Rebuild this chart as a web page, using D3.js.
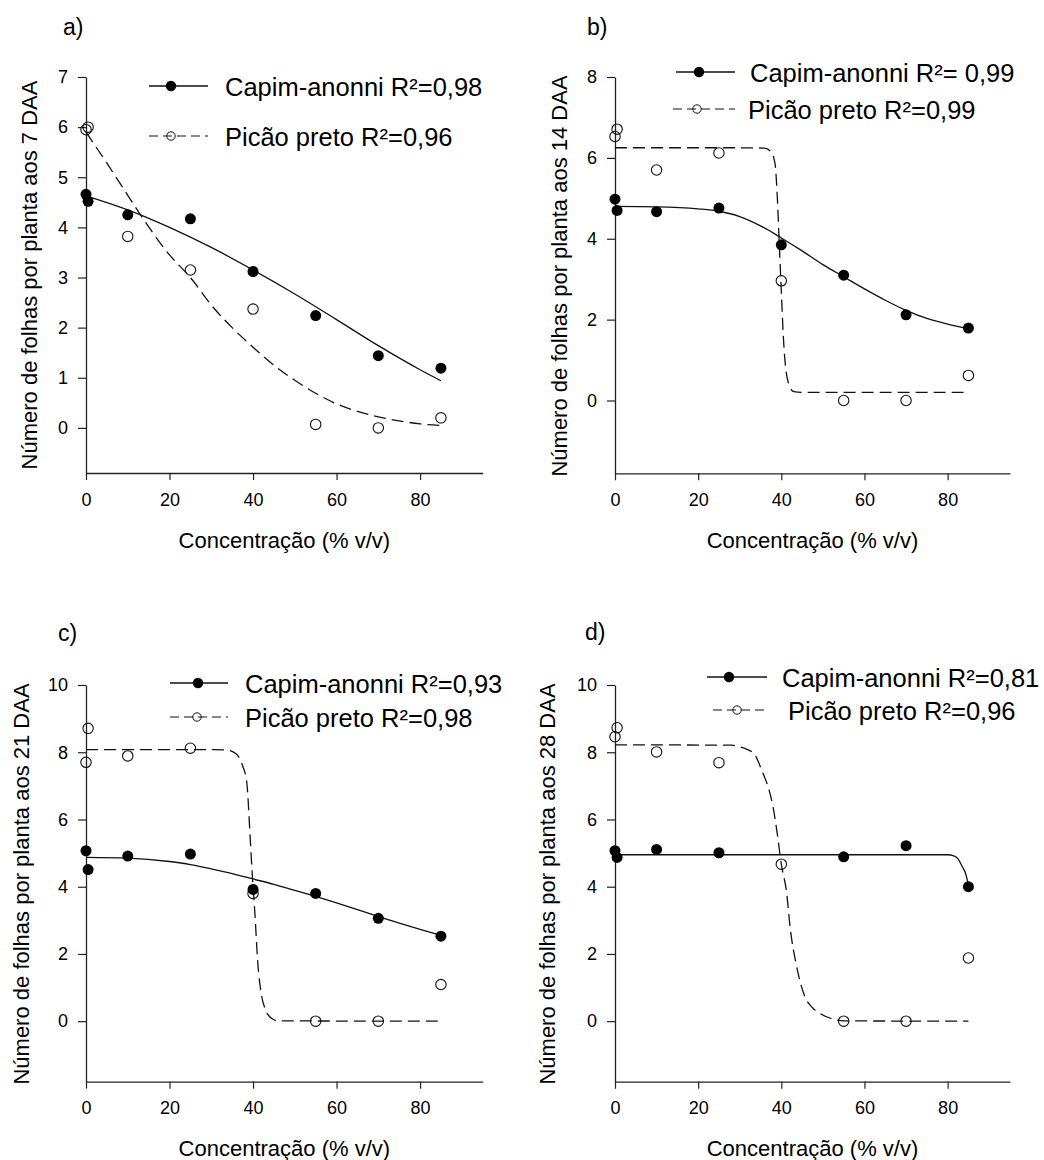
<!DOCTYPE html>
<html>
<head>
<meta charset="utf-8">
<script src="https://cdn.jsdelivr.net/npm/d3@7"></script>
<style>
  html, body { margin: 0; padding: 0; background: #fff; }
  svg { display: block; font-family: "Liberation Sans", Arial, sans-serif; }
</style>
</head>
<body>
<svg id="chart" width="1044" height="1160"></svg>
<script>
// ---------------- DATA ----------------
const doses = [0, 0.5, 10, 25, 40, 55, 70, 85];
const xTicks = [0, 20, 40, 60, 80];
const yTicksA = [0, 1, 2, 3, 4, 5, 6, 7];
const yTicksB = [0, 2, 4, 6, 8];
const yTicksCD = [0, 2, 4, 6, 8, 10];

const capim7  = [4.66, 4.52, 4.25, 4.17, 3.12, 2.24, 1.44, 1.19];
const picao7  = [5.95, 6.00, 3.82, 3.15, 2.37, 0.07, 0.00, 0.20];
const capim14 = [4.98, 4.70, 4.67, 4.76, 3.85, 3.10, 2.12, 1.79];
const picao14 = [6.53, 6.71, 5.70, 6.12, 2.96, 0.00, 0.00, 0.62];
const capim21 = [5.07, 4.51, 4.91, 4.97, 3.92, 3.80, 3.06, 2.53];
const picao21 = [7.70, 8.71, 7.89, 8.12, 3.80, 0.00, 0.00, 1.09];
const capim28 = [5.07, 4.87, 5.11, 5.01, null, 4.89, 5.22, 4.00];
const picao28 = [8.46, 8.73, 8.01, 7.69, 4.67, 0.00, 0.00, 1.88];

// fitted curves
const fitCapim7X = [0, 10, 20, 30, 40, 50, 60, 70, 80, 85];
const fitCapim7Y = [4.63, 4.35, 4.00, 3.60, 3.15, 2.67, 2.16, 1.64, 1.16, 0.94];
const fitPicao7X = [0, 5, 10, 13.3, 20, 25, 30, 35, 40, 45, 50, 55, 60, 65, 70, 75, 80, 85];
const fitPicao7Y = [5.90, 5.28, 4.64, 4.22, 3.45, 3.00, 2.45, 2.00, 1.61, 1.25, 0.95, 0.69, 0.48, 0.33, 0.22, 0.14, 0.08, 0.05];

const fitCapim14X = [0, 10, 20, 25, 30, 35, 40, 45, 50, 55, 60, 65, 70, 75, 80, 85];
const fitCapim14Y = [4.80, 4.79, 4.74, 4.68, 4.55, 4.32, 4.02, 3.70, 3.36, 3.06, 2.76, 2.48, 2.23, 2.03, 1.89, 1.78];
const fitPicao14X = [0, 30, 36, 37.5, 38.5, 39, 39.5, 40, 40.5, 41, 42, 43, 45, 85];
const fitPicao14Y = [6.25, 6.25, 6.24, 6.15, 5.85, 5.10, 3.90, 2.70, 1.55, 0.85, 0.35, 0.22, 0.20, 0.20];

const fitCapim21X = [0, 10, 20, 25, 30, 35, 40, 45, 50, 55, 60, 65, 70, 75, 80, 85];
const fitCapim21Y = [4.87, 4.85, 4.75, 4.66, 4.53, 4.39, 4.23, 4.07, 3.89, 3.71, 3.52, 3.32, 3.11, 2.92, 2.73, 2.55];
const fitPicao21X = [0, 30, 34, 36, 37.5, 38.5, 39.3, 39.8, 40.5, 41.1, 42, 43, 44.5, 46, 85];
const fitPicao21Y = [8.08, 8.08, 8.06, 7.95, 7.60, 7.10, 5.50, 4.40, 3.10, 1.80, 0.80, 0.33, 0.08, 0.01, 0];

const fitCapim28X = [0, 80, 81.5, 82.5, 83.5, 84.3, 85];
const fitCapim28Y = [4.95, 4.95, 4.92, 4.83, 4.60, 4.40, 4.05];
const fitPicao28X = [0, 28, 30, 32, 33.5, 35.5, 37, 38, 39, 40, 41.3, 42.1, 43.7, 45.7, 47.5, 49.3, 52, 55, 85];
const fitPicao28Y = [8.22, 8.21, 8.16, 8.07, 7.95, 7.40, 6.90, 6.38, 5.60, 4.67, 3.80, 2.81, 1.62, 0.72, 0.40, 0.23, 0.08, 0.01, 0];

const panelLabels = ["a)", "b)", "c)", "d)"];
const yTitles = [
  "Número de folhas por planta aos 7 DAA",
  "Número de folhas por planta aos 14 DAA",
  "Número de folhas por planta aos 21 DAA",
  "Número de folhas por planta aos 28 DAA"
];
const xTitle = "Concentração (% v/v)";
const legendCapim = ["Capim-anonni R²=0,98", "Capim-anonni R²= 0,99", "Capim-anonni R²=0,93", "Capim-anonni R²=0,81"];
const legendPicao = ["Picão preto R²=0,96", "Picão preto R²=0,99", "Picão preto R²=0,98", "Picão preto R²=0,96"];

// ---------------- LAYOUT ----------------
const panels = [
  { x0: 86,  x1: 482.7, yTop: 77,  yBot: 473,    yDom: [-0.9, 7],  yTicks: yTicksA,
    capim: capim7, picao: picao7, fc: [fitCapim7X, fitCapim7Y], fp: [fitPicao7X, fitPicao7Y],
    lab: [63, 35], yt: [29, 275],
    leg: { r1: 86, r2: 136, l1: [149, 208], m1: 171, l2: [149, 208], m2: 171, t1: 225, t2: 225 } },
  { x0: 615, x1: 1010,  yTop: 77,  yBot: 473.3,  yDom: [-1.8, 8],  yTicks: yTicksB,
    capim: capim14, picao: picao14, fc: [fitCapim14X, fitCapim14Y], fp: [fitPicao14X, fitPicao14Y],
    lab: [587, 35], yt: [559, 276],
    leg: { r1: 72, r2: 109, l1: [676, 735], m1: 699, l2: [673, 735], m2: 697, t1: 750, t2: 748 } },
  { x0: 86,  x1: 482.7, yTop: 685, yBot: 1081.7, yDom: [-1.8, 10], yTicks: yTicksCD,
    capim: capim21, picao: picao21, fc: [fitCapim21X, fitCapim21Y], fp: [fitPicao21X, fitPicao21Y],
    lab: [58, 641], yt: [21, 884],
    leg: { r1: 683, r2: 717, l1: [170, 228], m1: 198, l2: [170, 228], m2: 197, t1: 245, t2: 245 } },
  { x0: 615, x1: 1010,  yTop: 685, yBot: 1081.7, yDom: [-1.8, 10], yTicks: yTicksCD,
    capim: capim28, picao: picao28, fc: [fitCapim28X, fitCapim28Y], fp: [fitPicao28X, fitPicao28Y],
    lab: [585, 640], yt: [547, 884],
    leg: { r1: 677, r2: 710, l1: [707, 767], m1: 729, l2: [713, 767], m2: 737, t1: 782, t2: 788 } }
];

const svg = d3.select("#chart");
svg.append("rect").attr("width", 1044).attr("height", 1160).attr("fill", "#fff");

const axisColor = "#222";
const dashPlot = "12,6";
const dashLegend = "9,5";
const legendFont = "25.5px";

panels.forEach((p, i) => {
  const g = svg.append("g");
  const x = d3.scaleLinear().domain([0, 95]).range([p.x0, p.x1]);
  const y = d3.scaleLinear().domain(p.yDom).range([p.yBot, p.yTop]);

  // axes
  const ya = g.append("g").attr("transform", `translate(${p.x0},0)`)
    .call(d3.axisLeft(y).tickValues(p.yTicks).tickSize(8).tickSizeOuter(0).tickPadding(10));
  const xa = g.append("g").attr("transform", `translate(0,${p.yBot})`)
    .call(d3.axisBottom(x).tickValues(xTicks).tickSize(7).tickSizeOuter(0).tickPadding(13));
  [ya, xa].forEach(a => {
    a.select(".domain").attr("stroke", axisColor).attr("stroke-width", 1.3);
    a.selectAll(".tick line").attr("stroke", axisColor).attr("stroke-width", 1.2);
    a.selectAll(".tick text").attr("fill", "#000").style("font-size", "18px")
      .style("font-family", '"Liberation Sans", Arial, sans-serif');
  });

  // titles
  g.append("text").attr("x", p.lab[0]).attr("y", p.lab[1]).text(panelLabels[i])
    .style("font-size", "23px").attr("fill", "#000");
  g.append("text").attr("transform", `translate(${p.yt[0]},${p.yt[1]}) rotate(-90)`)
    .attr("text-anchor", "middle").attr("dominant-baseline", "central")
    .style("font-size", "22px").attr("fill", "#000").text(yTitles[i]);
  g.append("text").attr("x", (p.x0 + p.x1) / 2).attr("y", p.yBot + 67)
    .attr("text-anchor", "middle").attr("dominant-baseline", "central")
    .style("font-size", "22px").attr("fill", "#000").text(xTitle);

  // fitted curves
  const line = d3.line().x(d => x(d[0])).y(d => y(d[1])).curve(d3.curveMonotoneX);
  const fpPts = p.fp[0].map((v, k) => [v, p.fp[1][k]]);
  const fcPts = p.fc[0].map((v, k) => [v, p.fc[1][k]]);
  g.append("path").attr("d", line(fpPts)).attr("fill", "none").attr("stroke", "#111")
    .attr("stroke-width", 1.3).attr("stroke-dasharray", dashPlot);
  g.append("path").attr("d", line(fcPts)).attr("fill", "none").attr("stroke", "#111")
    .attr("stroke-width", 1.3);

  // points
  const picaoPts = doses.map((d, k) => [d, p.picao[k]]).filter(d => d[1] != null);
  const capimPts = doses.map((d, k) => [d, p.capim[k]]).filter(d => d[1] != null);
  g.selectAll(".op").data(picaoPts).enter().append("circle")
    .attr("cx", d => x(d[0])).attr("cy", d => y(d[1])).attr("r", 5.2)
    .attr("fill", "none").attr("stroke", "#111").attr("stroke-width", 1.1);
  g.selectAll(".fp").data(capimPts).enter().append("circle")
    .attr("cx", d => x(d[0])).attr("cy", d => y(d[1])).attr("r", 5.5)
    .attr("fill", "#000");

  // legend
  const L = p.leg;
  g.append("line").attr("x1", L.l1[0]).attr("x2", L.l1[1]).attr("y1", L.r1).attr("y2", L.r1)
    .attr("stroke", "#111").attr("stroke-width", 1.3);
  g.append("circle").attr("cx", L.m1).attr("cy", L.r1).attr("r", 5.2).attr("fill", "#000");
  g.append("text").attr("x", L.t1).attr("y", L.r1 + 1).attr("dominant-baseline", "central")
    .style("font-size", legendFont).attr("fill", "#000").text(legendCapim[i]);

  g.append("line").attr("x1", L.l2[0]).attr("x2", L.l2[1]).attr("y1", L.r2).attr("y2", L.r2)
    .attr("stroke", "#111").attr("stroke-width", 1.2).attr("stroke-dasharray", dashLegend);
  g.append("circle").attr("cx", L.m2).attr("cy", L.r2).attr("r", 4.2)
    .attr("fill", "none").attr("stroke", "#111").attr("stroke-width", 1);
  g.append("text").attr("x", L.t2).attr("y", L.r2 + 1).attr("dominant-baseline", "central")
    .style("font-size", legendFont).attr("fill", "#000").text(legendPicao[i]);
});
</script>
</body>
</html>
